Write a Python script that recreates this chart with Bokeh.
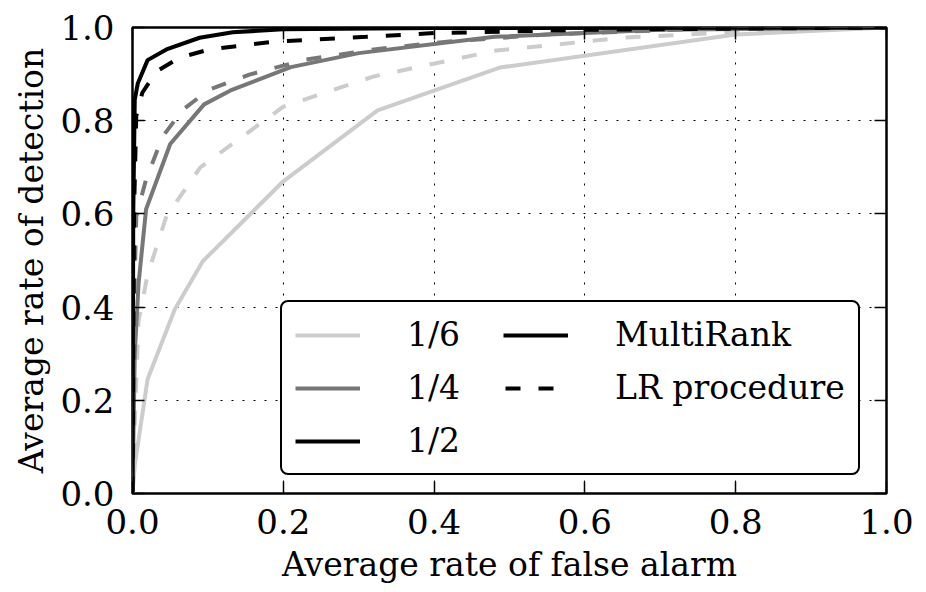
from bokeh.plotting import figure
from bokeh.models import Range1d, FixedTicker, LinearAxis, Legend, LegendItem
from bokeh.embed import file_html
from bokeh.resources import INLINE

# ---- data ----
tick_values = [0.0, 0.2, 0.4, 0.6, 0.8, 1.0]
tick_labels = ["0.0", "0.2", "0.4", "0.6", "0.8", "1.0"]

# ratio 1/6
mr16_far = [0.0, 0.003, 0.02, 0.056, 0.093, 0.2, 0.325, 0.487, 0.8, 1.0]
mr16_det = [0.0, 0.06, 0.245, 0.395, 0.498, 0.67, 0.822, 0.914, 0.985, 1.0]
lr16_far = [0.0, 0.004, 0.008, 0.02, 0.045, 0.09, 0.2, 0.32, 0.48, 0.65, 0.8, 1.0]
lr16_det = [0.0, 0.2, 0.37, 0.47, 0.595, 0.70, 0.83, 0.895, 0.95, 0.978, 0.99, 1.0]

# ratio 1/4
mr14_far = [0.0, 0.003, 0.008, 0.018, 0.05, 0.095, 0.13, 0.21, 0.3, 0.48, 0.7, 1.0]
mr14_det = [0.0, 0.3, 0.45, 0.61, 0.75, 0.835, 0.865, 0.915, 0.945, 0.98, 0.995, 1.0]
lr14_far = [0.0, 0.002, 0.005, 0.018, 0.04, 0.067, 0.102, 0.155, 0.23, 0.32, 0.42, 0.55, 0.75, 1.0]
lr14_det = [0.0, 0.4, 0.595, 0.674, 0.766, 0.824, 0.867, 0.899, 0.931, 0.953, 0.97, 0.985, 0.997, 1.0]

# ratio 1/2
mr12_far = [0.0, 0.001, 0.003, 0.007, 0.02, 0.045, 0.089, 0.133, 0.2, 0.4, 1.0]
mr12_det = [0.0, 0.6, 0.845, 0.88, 0.93, 0.953, 0.978, 0.99, 0.996, 0.999, 1.0]
lr12_far = [0.0, 0.002, 0.005, 0.013, 0.032, 0.062, 0.102, 0.19, 0.31, 0.40, 0.6, 1.0]
lr12_det = [0.0, 0.6, 0.81, 0.86, 0.906, 0.935, 0.953, 0.97, 0.98, 0.988, 0.995, 1.0]

ratio_labels = ["1/6", "1/4", "1/2"]
method_labels = ["MultiRank", "LR procedure"]

# ---- style ----
FONT = "DejaVu Serif"
C16, C14, C12 = "#cccccc", "#777777", "#000000"
LW = 4
DASH = "15 18"
DASH_OFF = 31

p = figure(
    frame_width=754, frame_height=466,
    x_range=Range1d(0, 1), y_range=Range1d(0, 1),
    output_backend="svg", toolbar_location=None,
    min_border_left=132, min_border_right=30,
    min_border_top=27, min_border_bottom=94,
    x_axis_label="Average rate of false alarm",
    y_axis_label="Average rate of detection",
)
p.outline_line_color = "black"
p.outline_line_width = 2.5
p.background_fill_color = "white"
p.border_fill_color = "white"

overrides = {v: s for v, s in zip(tick_values, tick_labels)}
for ax in (p.xaxis[0], p.yaxis[0]):
    ax.ticker = FixedTicker(ticks=tick_values)
    ax.major_label_overrides = overrides
    ax.major_tick_in = 12
    ax.major_tick_out = 0
    ax.major_tick_line_width = 1.5
    ax.minor_tick_line_color = None
    ax.axis_line_color = None
    ax.major_label_text_font = FONT
    ax.major_label_text_font_size = "34px"
    ax.major_label_text_color = "black"
    ax.axis_label_text_font = FONT
    ax.axis_label_text_font_size = "33px"
    ax.axis_label_text_font_style = "normal"
    ax.axis_label_text_color = "black"
p.xaxis[0].major_label_standoff = 15
p.xaxis[0].axis_label_standoff = 8
p.yaxis[0].major_label_standoff = 18
p.yaxis[0].axis_label_standoff = 6

blank = {v: "" for v in tick_values}
for side in ("above", "right"):
    ax = LinearAxis(ticker=FixedTicker(ticks=tick_values))
    ax.major_label_overrides = blank
    ax.major_tick_in = 12
    ax.major_tick_out = 0
    ax.major_tick_line_width = 1.5
    ax.minor_tick_line_color = None
    ax.axis_line_color = None
    ax.major_label_standoff = 0
    p.add_layout(ax, side)

for g in (p.xgrid[0], p.ygrid[0]):
    g.ticker = FixedTicker(ticks=tick_values)
    g.grid_line_color = "black"
    g.grid_line_width = 1
    g.grid_line_dash = "2 9"

# curves
r_mr16 = p.line(mr16_far, mr16_det, line_color=C16, line_width=LW)
r_lr16 = p.line(lr16_far, lr16_det, line_color=C16, line_width=LW,
                line_dash=DASH, line_dash_offset=DASH_OFF)
r_mr14 = p.line(mr14_far, mr14_det, line_color=C14, line_width=LW)
r_lr14 = p.line(lr14_far, lr14_det, line_color=C14, line_width=LW,
                line_dash=DASH, line_dash_offset=DASH_OFF)
r_lr12 = p.line(lr12_far, lr12_det, line_color=C12, line_width=LW,
                line_dash=DASH, line_dash_offset=DASH_OFF)
r_mr12 = p.line(mr12_far, mr12_det, line_color=C12, line_width=LW)

labels = ratio_labels + method_labels
renderers = [r_mr16, r_mr14, r_mr12, r_mr12, r_lr12]
items = [LegendItem(label=l, renderers=[r]) for l, r in zip(labels, renderers)]

legend = Legend(
    items=items, location=(148, 18), orientation="vertical", nrows=3,
    label_text_font=FONT, label_text_font_size="33px", label_text_color="black",
    glyph_width=65, glyph_height=38, label_standoff=47, label_width=82,
    label_height=38, spacing=14, padding=13,
    border_line_color="black", border_line_width=2, border_line_alpha=1.0,
    background_fill_color="white", background_fill_alpha=1.0,
    border_radius=8,
)
p.add_layout(legend, "center")

open("out.html", "w").write(file_html(p, INLINE))
